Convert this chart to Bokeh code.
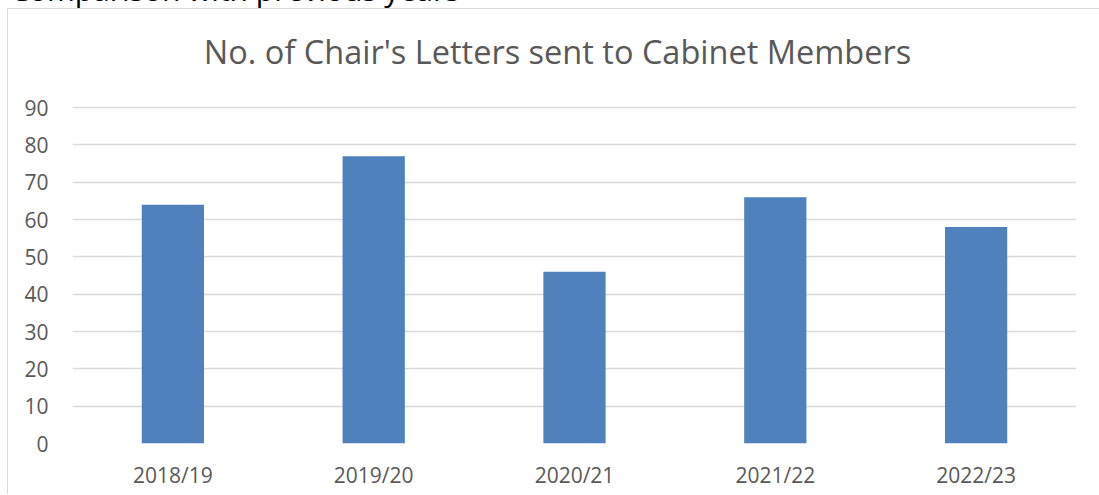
from bokeh.plotting import figure
from bokeh.models import ColumnDataSource, FixedTicker, Range1d, Div, Label
from bokeh.layouts import column
from bokeh.embed import file_html
from bokeh.resources import INLINE

categories = ["2018/19", "2019/20", "2020/21", "2021/22", "2022/23"]
letters = [64, 77, 46, 66, 58]
y_ticks = [0, 10, 20, 30, 40, 50, 60, 70, 80, 90]
title_text = "No. of Chair's Letters sent to Cabinet Members"
heading_text = "Comparison with previous years"

src = ColumnDataSource(dict(cat=categories, val=letters))

FONT = "Open Sans"
GREY = "#595959"

heading = Div(
    text=(f'<div style="position:relative; top:-25px; left:10px; font-family:\'Open Sans\';'
          f' font-size:30px; line-height:30px; color:#000; white-space:nowrap;">{heading_text}</div>'),
    width=1099, height=8, margin=(0, 0, 0, 0),
    styles={"overflow": "hidden"},
)

# the frame extends above 90 to leave room for the chart title inside it
p = figure(
    x_range=categories,
    y_range=Range1d(0, 116.3),
    width=1092, height=486,
    output_backend="svg", toolbar_location=None,
    min_border_left=64, min_border_right=24,
    min_border_top=0, min_border_bottom=52,
)
p.margin = (0, 0, 0, 7)
p.styles = {"border-left": "1px solid #d9d9d9", "border-top": "1px solid #d9d9d9"}

p.vbar(x="cat", top="val", width=0.31, source=src,
       fill_color="#4f81bd", line_color=None)

title = Label(
    x=485, y=392, x_units="screen", y_units="screen",
    text=title_text, text_align="center", text_baseline="alphabetic",
    text_font=FONT, text_font_size="32.5px", text_color=GREY,
)
p.add_layout(title)

p.outline_line_color = None
p.xgrid.grid_line_color = None
p.ygrid.grid_line_color = "#d9d9d9"
p.ygrid.grid_line_width = 1.5
p.yaxis.ticker = FixedTicker(ticks=y_ticks)

for ax in (p.xaxis, p.yaxis):
    ax.axis_line_color = None
    ax.major_tick_line_color = None
    ax.minor_tick_line_color = None
    ax.major_label_text_font = FONT
    ax.major_label_text_font_size = "21px"
    ax.major_label_text_color = GREY
p.yaxis.major_label_standoff = 18
p.xaxis.major_label_standoff = 11
p.x_range.range_padding = 0

layout = column(heading, p, spacing=0, margin=(0, 0, 0, 0))
open("out.html", "w").write(file_html(layout, INLINE))
